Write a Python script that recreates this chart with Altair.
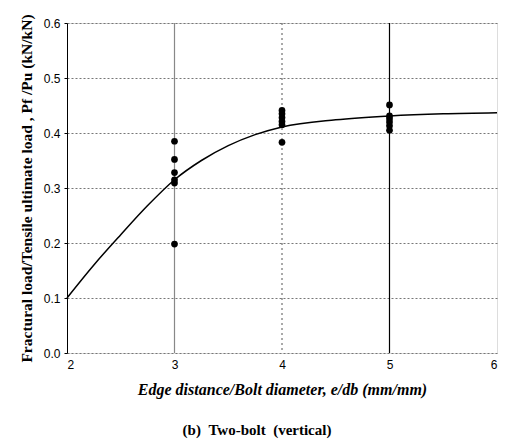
import altair as alt
import pandas as pd

# measured points
pt_x = [3, 3, 3, 3, 3, 3, 4, 4, 4, 4, 4, 4, 5, 5, 5, 5, 5, 5]
pt_y = [0.385, 0.352, 0.328, 0.315, 0.309, 0.198,
        0.441, 0.435, 0.428, 0.421, 0.415, 0.383,
        0.451, 0.431, 0.426, 0.420, 0.413, 0.405]

# fitted curve
curve_x = [2, 2.25, 2.5, 2.75, 3, 3.25, 3.5, 3.75, 4, 4.5, 5, 5.5, 6]
curve_y = [0.1, 0.16, 0.215, 0.268, 0.315, 0.35, 0.377, 0.397, 0.411, 0.424, 0.431, 0.435, 0.437]

vlines_x = [3, 5]
vdot_x = [4]

pts = pd.DataFrame({"x": pt_x, "y": pt_y})
crv = pd.DataFrame({"x": curve_x, "y": curve_y})

xs = alt.Scale(domain=[2, 6], nice=False)
ys = alt.Scale(domain=[0, 0.6], nice=False)

xaxis = alt.Axis(values=[2, 3, 4, 5, 6], format="d", title="Edge distance/Bolt diameter, e/db (mm/mm)",
                 grid=False, ticks=False, domain=False, labelPadding=6,
                 labelFont="Liberation Sans", labelFontSize=12, labelColor="black",
                 titleFont="Liberation Serif", titleFontSize=16, titleFontStyle="italic",
                 titleFontWeight="bold", titleColor="black", titlePadding=11)
yaxis = alt.Axis(values=[0, 0.1, 0.2, 0.3, 0.4, 0.5, 0.6], format=".1f",
                 title="Fractural load/Tensile ultimate load , Pf /Pu (kN/kN)",
                 grid=True, gridColor="#777777", gridDash=[2, 2], gridWidth=1,
                 ticks=True, tickColor="black", tickSize=3, domain=True, domainColor="black",
                 labelPadding=4, labelFont="Liberation Sans", labelFontSize=12, labelColor="black",
                 titleFont="Liberation Serif", titleFontSize=15.5, titleFontWeight="bold",
                 titleColor="black", titlePadding=9)

base_grid = alt.Chart(crv).mark_line(opacity=0).encode(
    x=alt.X("x:Q", scale=xs, axis=xaxis),
    y=alt.Y("y:Q", scale=ys, axis=yaxis),
)

vsolid = alt.Chart(pd.DataFrame({"x": vlines_x, "c": ["#888888", "black"]})).mark_rule(strokeWidth=1.2).encode(
    x=alt.X("x:Q", scale=xs), color=alt.Color("c:N", scale=None))
vdot = alt.Chart(pd.DataFrame({"x": vdot_x})).mark_rule(strokeDash=[2, 3], color="#555555").encode(
    x=alt.X("x:Q", scale=xs))

line = alt.Chart(crv).mark_line(color="black", strokeWidth=1.5, interpolate="monotone").encode(
    x=alt.X("x:Q", scale=xs), y=alt.Y("y:Q", scale=ys))

dots = alt.Chart(pts).mark_circle(color="black", size=45, opacity=1).encode(
    x=alt.X("x:Q", scale=xs), y=alt.Y("y:Q", scale=ys))

caption = alt.Chart(pd.DataFrame({"t": ["(b)\u00a0\u00a0Two-bolt\u00a0\u00a0(vertical)"]})).mark_text(
    font="Liberation Serif", fontSize=15, fontWeight="bold", color="black", align="center", baseline="middle"
).encode(text="t:N", x=alt.value(190), y=alt.value(407))

chart = alt.layer(base_grid, vsolid, vdot, line, dots, caption).properties(
    width=430, height=330,
    autosize=alt.AutoSizeParams(type="none"),
    padding={"left": 67, "top": 23, "right": 10, "bottom": 90},
).configure_view(stroke="black", strokeWidth=1).configure(background="white")

chart.save("out.html", embed_options={"renderer": "svg", "actions": False})
